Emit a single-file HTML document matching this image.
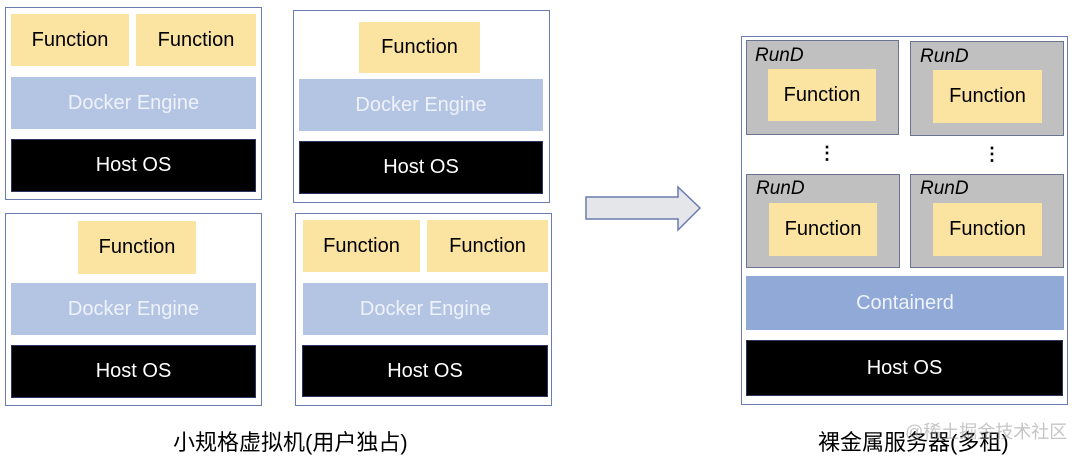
<!DOCTYPE html>
<html><head><meta charset="utf-8"><style>
body{margin:0;width:1080px;height:456px;background:#fff;position:relative;overflow:hidden;font-family:"Liberation Sans","Noto Sans CJK SC",sans-serif}
div{position:absolute;box-sizing:border-box}
.b{border:1.5px solid #6a7bb0;background:#fff}
.f{background:#fbe3a2;color:#000;font-size:20px;display:flex;align-items:center;justify-content:center}
.d{background:#b4c5e4;color:#eef2fa;font-size:20px;display:flex;align-items:center;justify-content:center}
.h{background:#000;color:#fff;font-size:20px;display:flex;align-items:center;justify-content:center;border:1px solid #2b3560}
.r{background:#c0c0c0;border:1.5px solid #6a7390}
.rl{font-style:italic;font-size:19px;color:#000}
.cap{font-size:22px;color:#000;white-space:nowrap}
.dot{font-size:18px;font-weight:bold;line-height:1}
</style></head><body>
<div class="b" style="left:5px;top:7px;width:257px;height:193px"></div>
<div class="f" style="left:11px;top:14px;width:118px;height:52px">Function</div>
<div class="f" style="left:136px;top:14px;width:120px;height:52px">Function</div>
<div class="d" style="left:11px;top:77px;width:245px;height:52px">Docker Engine</div>
<div class="h" style="left:11px;top:139px;width:245px;height:53px">Host OS</div>

<div class="b" style="left:293px;top:10px;width:257px;height:193px"></div>
<div class="f" style="left:359px;top:22px;width:121px;height:51px">Function</div>
<div class="d" style="left:299px;top:79px;width:244px;height:52px">Docker Engine</div>
<div class="h" style="left:299px;top:141px;width:244px;height:53px">Host OS</div>

<div class="b" style="left:5px;top:213px;width:257px;height:193px"></div>
<div class="f" style="left:78px;top:221px;width:118px;height:53px">Function</div>
<div class="d" style="left:11px;top:283px;width:245px;height:52px">Docker Engine</div>
<div class="h" style="left:11px;top:345px;width:245px;height:53px">Host OS</div>

<div class="b" style="left:295px;top:213px;width:257px;height:193px"></div>
<div class="f" style="left:303px;top:220px;width:117px;height:52px">Function</div>
<div class="f" style="left:427px;top:220px;width:121px;height:52px">Function</div>
<div class="d" style="left:303px;top:283px;width:245px;height:52px">Docker Engine</div>
<div class="h" style="left:302px;top:345px;width:246px;height:52px">Host OS</div>

<div class="cap" style="left:173px;top:425px">小规格虚拟机(用户独占)</div>

<svg style="position:absolute;left:0;top:0" width="1080" height="456">
<polygon points="586,197 678,197 678,187 700,208 678,230 678,219 586,219" fill="#e4e6ea" stroke="#6a7bb0" stroke-width="1.5"/>
</svg>

<div class="b" style="left:741px;top:36px;width:327px;height:369px"></div>
<div class="r" style="left:746px;top:40px;width:153px;height:95px"></div>
<div class="rl" style="left:755px;top:45px">RunD</div>
<div class="f" style="left:768px;top:69px;width:108px;height:52px">Function</div>
<div class="r" style="left:910px;top:41px;width:154px;height:95px"></div>
<div class="rl" style="left:920px;top:46px">RunD</div>
<div class="f" style="left:933px;top:70px;width:109px;height:53px">Function</div>
<div class="dot" style="left:818px;top:144px">⋮</div>
<div class="dot" style="left:983px;top:145px">⋮</div>
<div class="r" style="left:746px;top:174px;width:154px;height:94px"></div>
<div class="rl" style="left:756px;top:178px">RunD</div>
<div class="f" style="left:769px;top:203px;width:108px;height:53px">Function</div>
<div class="r" style="left:910px;top:174px;width:154px;height:94px"></div>
<div class="rl" style="left:920px;top:178px">RunD</div>
<div class="f" style="left:933px;top:203px;width:109px;height:53px">Function</div>
<div class="d" style="left:746px;top:276px;width:318px;height:54px;background:#91a9d6">Containerd</div>
<div class="h" style="left:746px;top:340px;width:317px;height:56px">Host OS</div>

<div class="cap" style="left:818px;top:425px">裸金属服务器(多租)</div>
<div style="left:905px;top:418px;font-size:18px;color:rgba(150,150,150,0.55);white-space:nowrap">@稀土掘金技术社区</div>
</body></html>
